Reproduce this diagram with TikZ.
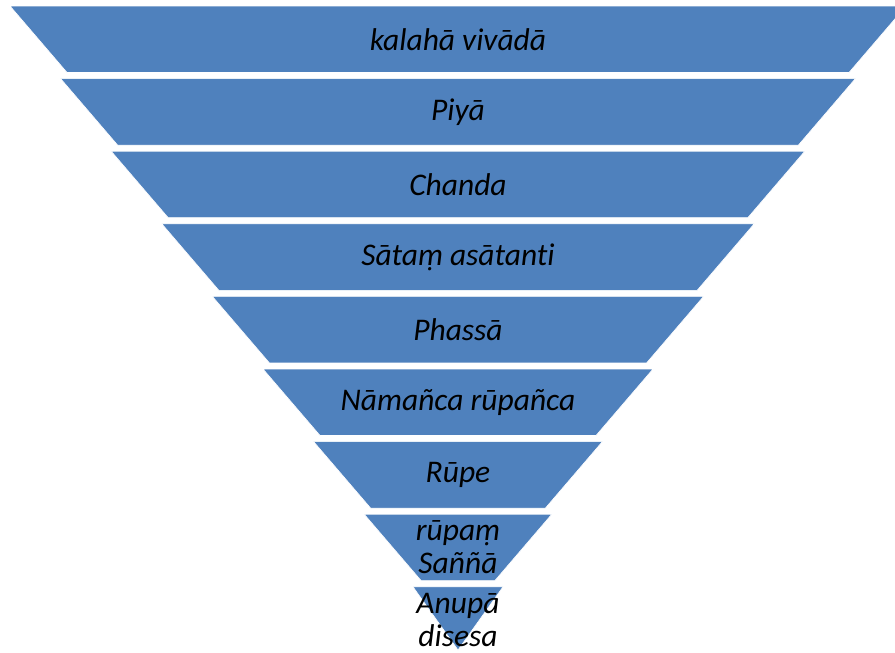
\documentclass[tikz,border=0pt]{standalone}
\usepackage{fontspec}
\setmainfont[Ligatures=NoCommon]{Carlito}
\usepackage{tikz}
\definecolor{bandblue}{HTML}{4F81BD}
\tikzstyle{band}=[fill=bandblue,draw=white,line width=0.6pt]
\tikzstyle{bandtext}=[text=black,font=\fontsize{31.5}{33}\selectfont\itshape,align=center,inner sep=0pt]

\begin{document}
\begin{tikzpicture}[x=1pt,y=-1pt]
					\clip (0,0) rectangle (895,653);
					\useasboundingbox (0,0) rectangle (895,653);
					% nine layers, widest on top
					\filldraw[band] (10,6) -- (906,6) -- (849,72.5) -- (67,72.5) -- cycle;
					\filldraw[band] (60.6,78.6) -- (855.4,78.6) -- (798.4,145.1) -- (117.6,145.1) -- cycle;
					\filldraw[band] (111.2,151.2) -- (804.8,151.2) -- (747.8,217.7) -- (168.2,217.7) -- cycle;
					\filldraw[band] (161.8,223.8) -- (754.2,223.8) -- (697.2,290.3) -- (218.8,290.3) -- cycle;
					\filldraw[band] (212.4,296.4) -- (703.6,296.4) -- (646.6,362.9) -- (269.4,362.9) -- cycle;
					\filldraw[band] (263,369) -- (653,369) -- (596,435.5) -- (320,435.5) -- cycle;
					\filldraw[band] (313.6,441.6) -- (602.4,441.6) -- (545.4,508.1) -- (370.6,508.1) -- cycle;
					\filldraw[band] (364.2,514.2) -- (551.8,514.2) -- (494.8,580.7) -- (421.2,580.7) -- cycle;
					\filldraw[band] (413,586.8) -- (503,586.8) -- (458,650) -- cycle;
					% texts
					\node[bandtext] (kalaha) at (458,39.3) {kalahā vivādā};
					\node[bandtext] (piya) at (458,111.9) {Piyā};
					\node[bandtext] (chanda) at (458,184.5) {Chanda};
					\node[bandtext] (sata) at (458,257.1) {Sātaṃ asātanti};
					\node[bandtext] (phassa) at (458,329.7) {Phassā};
					\node[bandtext] (namanca) at (458,402.3) {Nāmañca rūpañca};
					\node[bandtext] (rupe) at (458,474.9) {Rūpe};
					\node[bandtext] (sanna) at (458,547.5) {rūpaṃ\\Saññā};
					\node[bandtext] (anupa) at (458,620) {Anupā\\disesa};
					\end{tikzpicture}
\end{document}
